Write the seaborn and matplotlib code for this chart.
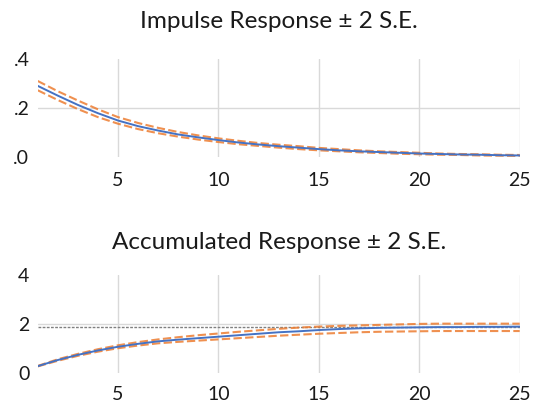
import matplotlib
matplotlib.use("Agg")
import matplotlib.pyplot as plt
import seaborn as sns
import pandas as pd
import numpy as np

periods = list(range(1, 26))

impulse = [0.290, 0.250, 0.212, 0.178, 0.148, 0.125, 0.107, 0.091, 0.079, 0.068,
           0.058, 0.050, 0.043, 0.037, 0.031, 0.026, 0.022, 0.019, 0.016, 0.013,
           0.011, 0.009, 0.008, 0.006, 0.005]
impulse_upper = [0.310, 0.268, 0.230, 0.194, 0.162, 0.138, 0.118, 0.101, 0.087, 0.075,
                 0.065, 0.056, 0.049, 0.043, 0.036, 0.031, 0.026, 0.022, 0.019, 0.016,
                 0.013, 0.011, 0.010, 0.008, 0.007]
impulse_lower = [0.272, 0.232, 0.195, 0.162, 0.135, 0.113, 0.096, 0.082, 0.070, 0.060,
                 0.051, 0.044, 0.037, 0.031, 0.026, 0.022, 0.018, 0.015, 0.012, 0.010,
                 0.008, 0.007, 0.005, 0.004, 0.003]

accum = [0.29, 0.54, 0.75, 0.93, 1.08, 1.20, 1.30, 1.37, 1.43, 1.49,
         1.55, 1.61, 1.67, 1.71, 1.76, 1.80, 1.83, 1.85, 1.86, 1.87,
         1.88, 1.88, 1.89, 1.89, 1.90]
accum_upper = [0.30, 0.57, 0.79, 0.98, 1.14, 1.27, 1.38, 1.47, 1.55, 1.62,
               1.69, 1.75, 1.81, 1.86, 1.90, 1.93, 1.95, 1.97, 1.99, 2.01,
               2.02, 2.02, 2.02, 2.02, 2.02]
accum_lower = [0.28, 0.51, 0.71, 0.88, 1.02, 1.13, 1.22, 1.28, 1.33, 1.38,
               1.43, 1.48, 1.53, 1.57, 1.61, 1.64, 1.67, 1.69, 1.70, 1.71,
               1.72, 1.72, 1.72, 1.72, 1.72]
accum_longrun = 1.90

titles = ["Impulse Response \u00b1 2 S.E.", "Accumulated Response \u00b1 2 S.E."]
top_yticks = [0.0, 0.2, 0.4]
top_yticklabels = [".0", ".2", ".4"]
bot_yticks = [0, 2, 4]
bot_yticklabels = ["0", "2", "4"]
xticks = [5, 10, 15, 20, 25]

sns.set_style("white")
plt.rcParams['font.family'] = ['Lato', 'DejaVu Sans']

BLUE = "#4472C4"
ORANGE = "#ED7D31"
GRID = "#D9D9D9"

fig = plt.figure(figsize=(5.37, 4.03), dpi=100)
ax1 = fig.add_axes([0.0702, 0.6112, 0.8976, 0.2424])
ax2 = fig.add_axes([0.0702, 0.0737, 0.8976, 0.2439])

def draw(ax, mean, up, lo, title, yticks, ylabels, ylim, title_pad, xpad):
    df = pd.DataFrame({"period": periods, "mean": mean, "upper": up, "lower": lo})
    sns.lineplot(data=df, x="period", y="upper", ax=ax, color=ORANGE, lw=1.5,
                 alpha=0.85)
    sns.lineplot(data=df, x="period", y="lower", ax=ax, color=ORANGE, lw=1.5,
                 alpha=0.85)
    for ln in ax.get_lines():
        ln.set_dashes((4, 1.6))
    sns.lineplot(data=df, x="period", y="mean", ax=ax, color=BLUE, lw=1.4)
    ax.set_xlim(1, 25)
    ax.set_ylim(*ylim)
    ax.set_xticks(xticks)
    ax.set_xticklabels([str(t) for t in xticks])
    ax.set_yticks(yticks)
    ax.set_yticklabels(ylabels)
    ax.set_xlabel("")
    ax.set_ylabel("")
    ax.set_title(title, fontsize=17.5, color="#1a1a1a", pad=title_pad)
    for s in ax.spines.values():
        s.set_visible(False)
    ax.tick_params(axis="both", length=0, labelsize=14, colors="#1a1a1a")
    ax.tick_params(axis="x", pad=xpad)
    ax.tick_params(axis="y", pad=6)
    ax.grid(True, color=GRID, lw=1)
    ax.set_axisbelow(True)
    glines = ax.yaxis.get_gridlines()
    glines[0].set_visible(False)
    glines[-1].set_visible(False)

draw(ax1, impulse, impulse_upper, impulse_lower, titles[0], top_yticks,
     top_yticklabels, (0.0, 0.4), 22, 11)
draw(ax2, accum, accum_upper, accum_lower, titles[1], bot_yticks,
     bot_yticklabels, (0, 4), 19, 9.5)
ax2.axhline(accum_longrun, color="#808080", lw=1.0, ls=(0, (2, 1)), zorder=1.5)

fig.savefig("out.png", dpi=100)
